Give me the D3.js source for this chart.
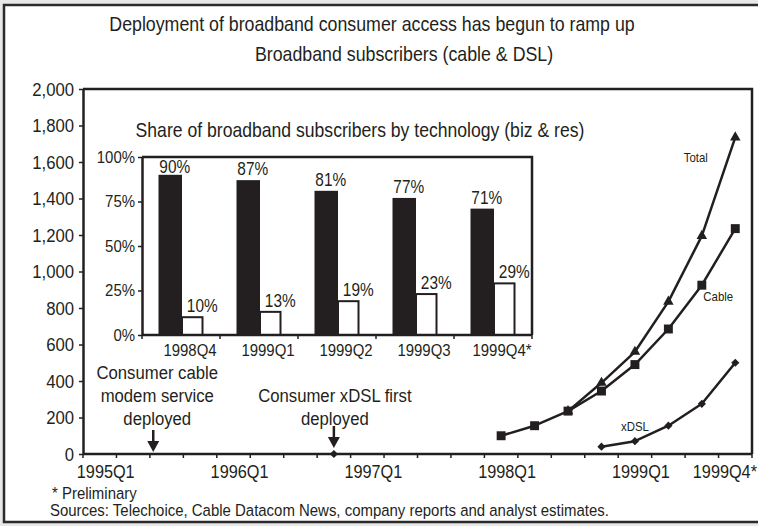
<!DOCTYPE html>
<html>
<head>
<meta charset="utf-8">
<script src="https://cdn.jsdelivr.net/npm/d3@7"></script>
<style>
  html, body { margin: 0; padding: 0; background: #e8e8e8; }
  svg { display: block; }
</style>
</head>
<body>
<svg id="chart" width="758" height="526"></svg>
<script>
// ---- Data -------------------------------------------------------------
const quarters = [
  "1995Q1", "1995Q2", "1995Q3", "1995Q4",
  "1996Q1", "1996Q2", "1996Q3", "1996Q4",
  "1997Q1", "1997Q2", "1997Q3", "1997Q4",
  "1998Q1", "1998Q2", "1998Q3", "1998Q4",
  "1999Q1", "1999Q2", "1999Q3", "1999Q4"
];
const quarterTicks = ["1995Q1", "1996Q1", "1997Q1", "1998Q1", "1999Q1", "1999Q4"];
const quarterTickText = ["1995Q1", "1996Q1", "1997Q1", "1998Q1", "1999Q1", "1999Q4*"];
const subscriberTicks = [0, 200, 400, 600, 800, 1000, 1200, 1400, 1600, 1800, 2000];

// Subscribers (thousands), one entry per quarter; null = no figure
const cableSubs = [null, null, null, null, null, null, null, null, null, null, null, null,
                   100, 155, 235, 345, 490, 685, 925, 1235];
const totalSubs = [null, null, null, null, null, null, null, null, null, null, null, null,
                   null, null, 235, 390, 560, 835, 1195, 1735];
const xdslSubs  = [null, null, null, null, null, null, null, 0, null, null, null, null,
                   null, null, null, 40, 70, 155, 275, 500];

// Share of broadband subscribers by technology
const shareQuarters = ["1998Q4", "1999Q1", "1999Q2", "1999Q3", "1999Q4"];
const shareQuarterText = ["1998Q4", "1999Q1", "1999Q2", "1999Q3", "1999Q4*"];
const cableShare = [90, 87, 81, 77, 71];
const dslShare = [10, 13, 19, 23, 29];
const shareTicks = [0, 25, 50, 75, 100];

// ---- Style ------------------------------------------------------------
const INK = "#231f20";
const FONT = "'Liberation Sans', Arial, sans-serif";
const NARROW = 0.88;   // horizontal squeeze giving a condensed face

const svg = d3.select("#chart");

// page frame
svg.append("rect").attr("width", 758).attr("height", 526).attr("fill", "#e8e8e8");
svg.append("rect")
  .attr("x", 4).attr("y", 5).attr("width", 770).attr("height", 517)
  .attr("fill", "#fff").attr("stroke", "#2b2b2b").attr("stroke-width", 2.5);

function text(g, str, x, y, size, anchor) {
  return g.append("text")
    .attr("transform", `translate(${x},${y}) scale(${NARROW},1)`)
    .attr("font-family", FONT).attr("font-size", size)
    .attr("fill", INK).attr("text-anchor", anchor || "middle")
    .text(str);
}
function condenseAxisText(g, size, offset) {
  g.selectAll(".tick text")
    .attr("font-family", FONT).attr("font-size", size).attr("fill", INK)
    .attr("x", -offset / NARROW)
    .attr("transform", `scale(${NARROW},1)`);
}

// titles
text(svg, "Deployment of broadband consumer access has begun to ramp up", 372, 31, 20.2);
text(svg, "Broadband subscribers (cable & DSL)", 404, 61, 20.2);

// ---- Main chart ---------------------------------------------------------
const plot = { left: 83, top: 89, right: 752, bottom: 454 };

const x = d3.scaleBand().domain(quarters).range([plot.left, plot.right]);
const xc = q => x(q) + x.bandwidth() / 2;
const y = d3.scaleLinear().domain([0, 2000]).range([plot.bottom, plot.top]);

const main = svg.append("g");

// y axis
const yAxis = d3.axisLeft(y)
  .tickValues(subscriberTicks)
  .tickFormat(d3.format(","))
  .tickSize(4).tickSizeOuter(0).tickPadding(5);
const yG = main.append("g").attr("transform", `translate(${plot.left},0)`).call(yAxis);
yG.select(".domain").attr("stroke", INK).attr("stroke-width", 2.5);
yG.selectAll(".tick line").attr("stroke", INK).attr("stroke-width", 1.5);
condenseAxisText(yG, 19, 9);

// plot border (top + right)
main.append("path")
  .attr("d", `M${plot.left},${plot.top}H${plot.right}V${plot.bottom}`)
  .attr("fill", "none").attr("stroke", INK).attr("stroke-width", 2.5);

// x axis: baseline, category boundary ticks, labels
main.append("line")
  .attr("x1", plot.left).attr("x2", plot.right)
  .attr("y1", plot.bottom).attr("y2", plot.bottom)
  .attr("stroke", INK).attr("stroke-width", 2.5);
main.append("g").selectAll("line")
  .data(quarters.map(q => x(q)).concat([plot.right]))
  .join("line")
  .attr("x1", d => d).attr("x2", d => d)
  .attr("y1", plot.bottom).attr("y2", plot.bottom + 4)
  .attr("stroke", INK).attr("stroke-width", 1.5);
quarterTicks.forEach((q, i) => {
  const last = i === quarterTicks.length - 1;
  text(main, quarterTickText[i], last ? plot.right + 5 : xc(q) + 6, 478, 18.5, last ? "end" : "middle");
});

// series lines
const lineGen = d3.line()
  .defined(d => d.v != null)
  .x(d => xc(d.q))
  .y(d => y(d.v));
const asPoints = vals => quarters.map((q, i) => ({ q, v: vals[i] }));

function drawSeries(vals, symbol, size, rotate) {
  const pts = asPoints(vals);
  main.append("path")
    .datum(pts)
    .attr("d", lineGen)
    .attr("fill", "none").attr("stroke", INK).attr("stroke-width", 2.5)
    .attr("stroke-linejoin", "round");
  main.append("g").selectAll("path")
    .data(pts.filter(d => d.v != null))
    .join("path")
    .attr("d", d3.symbol().type(symbol).size(size))
    .attr("transform", d => `translate(${xc(d.q)},${y(d.v)}) rotate(${rotate || 0})`)
    .attr("fill", INK);
}
drawSeries(totalSubs, d3.symbolTriangle, 48);
drawSeries(cableSubs, d3.symbolSquare, 80);
drawSeries(xdslSubs, d3.symbolSquare, 34, 45);

// series labels
text(main, "Total", xc("1999Q3") - 6, y(1600), 13);
text(main, "Cable", xc("1999Q4") - 17, y(840), 13);
text(main, "xDSL", xc("1999Q1"), y(125), 13);

// launch annotations with arrows
function arrow(g, ax, tipY) {
  g.append("line")
    .attr("x1", ax).attr("x2", ax)
    .attr("y1", tipY - 22).attr("y2", tipY - 9)
    .attr("stroke", INK).attr("stroke-width", 2.5);
  g.append("path")
    .attr("d", `M${ax - 6},${tipY - 11}L${ax + 6},${tipY - 11}L${ax},${tipY}Z`)
    .attr("fill", INK);
}
const cableAx = x("1995Q3") + x.bandwidth() * 0.1;
arrow(main, cableAx, plot.bottom - 2);
text(main, "Consumer cable", cableAx + 4, 379, 19);
text(main, "modem service", cableAx + 4, 402, 19);
text(main, "deployed", cableAx + 4, 425, 19);

const dslAx = xc("1996Q4");
arrow(main, dslAx, plot.bottom - 6);
text(main, "Consumer xDSL first", dslAx + 1, 402, 19);
text(main, "deployed", dslAx + 1, 425, 19);

// ---- Inset: share by technology ------------------------------------------
const inset = { left: 142, top: 157, right: 532, bottom: 335 };
const ins = svg.append("g");

text(ins, "Share of broadband subscribers by technology (biz & res)", 360, 137, 20);

const xi = d3.scaleBand().domain(shareQuarters).range([inset.left, inset.right]);
const yi = d3.scaleLinear().domain([0, 100]).range([inset.bottom, inset.top]);

const yiAxis = d3.axisLeft(yi)
  .tickValues(shareTicks)
  .tickFormat(d => d + "%")
  .tickSize(4).tickSizeOuter(0).tickPadding(3);
const yiG = ins.append("g").attr("transform", `translate(${inset.left},0)`).call(yiAxis);
yiG.select(".domain").attr("stroke", INK).attr("stroke-width", 2.5);
yiG.selectAll(".tick line").attr("stroke", INK).attr("stroke-width", 1.5);
condenseAxisText(yiG, 17, 7);

ins.append("path")
  .attr("d", `M${inset.left},${inset.top}H${inset.right}V${inset.bottom}`)
  .attr("fill", "none").attr("stroke", INK).attr("stroke-width", 2.5);

// bars
const pairW = 45;
const sub = d3.scaleBand().domain(["cable", "dsl"]).range([0, pairW]);
const pairX = q => xi(q) + (xi.bandwidth() - pairW) / 2;

ins.append("g").selectAll("rect")
  .data(shareQuarters.map((q, i) => ({ q, v: cableShare[i] })))
  .join("rect")
  .attr("x", d => pairX(d.q) + sub("cable"))
  .attr("width", sub.bandwidth() + 1)
  .attr("y", d => yi(d.v))
  .attr("height", d => yi(0) - yi(d.v))
  .attr("fill", INK);

ins.append("g").selectAll("rect")
  .data(shareQuarters.map((q, i) => ({ q, v: dslShare[i] })))
  .join("rect")
  .attr("x", d => pairX(d.q) + sub("dsl") + 1)
  .attr("width", sub.bandwidth() - 2)
  .attr("y", d => yi(d.v))
  .attr("height", d => yi(0) - yi(d.v))
  .attr("fill", "#fff").attr("stroke", INK).attr("stroke-width", 2);

// bar value labels
shareQuarters.forEach((q, i) => {
  const cx = pairX(q) + sub("cable") + sub.bandwidth() / 2;
  const dx = pairX(q) + sub("dsl") + sub.bandwidth() / 2;
  text(ins, cableShare[i] + "%", cx + 5, Math.max(yi(cableShare[i]) - 5, inset.top + 16), 17.5);
  text(ins, dslShare[i] + "%", dx + 10, yi(dslShare[i]) - 5, 17.5);
});

// inset x axis
ins.append("line")
  .attr("x1", inset.left).attr("x2", inset.right)
  .attr("y1", inset.bottom).attr("y2", inset.bottom)
  .attr("stroke", INK).attr("stroke-width", 2.5);
ins.append("g").selectAll("line")
  .data(shareQuarters.map(q => xi(q)).concat([inset.right]))
  .join("line")
  .attr("x1", d => d).attr("x2", d => d)
  .attr("y1", inset.bottom).attr("y2", inset.bottom + 4)
  .attr("stroke", INK).attr("stroke-width", 1.5);
shareQuarters.forEach((q, i) => {
  text(ins, shareQuarterText[i], xi(q) + xi.bandwidth() / 2 + 9, 356, 17);
});

// ---- Footnotes ----------------------------------------------------------
text(svg, "* Preliminary", 52, 499, 17, "start");
text(svg, "Sources: Telechoice, Cable Datacom News, company reports and analyst estimates.", 50, 516, 17, "start");
</script>
</body>
</html>
